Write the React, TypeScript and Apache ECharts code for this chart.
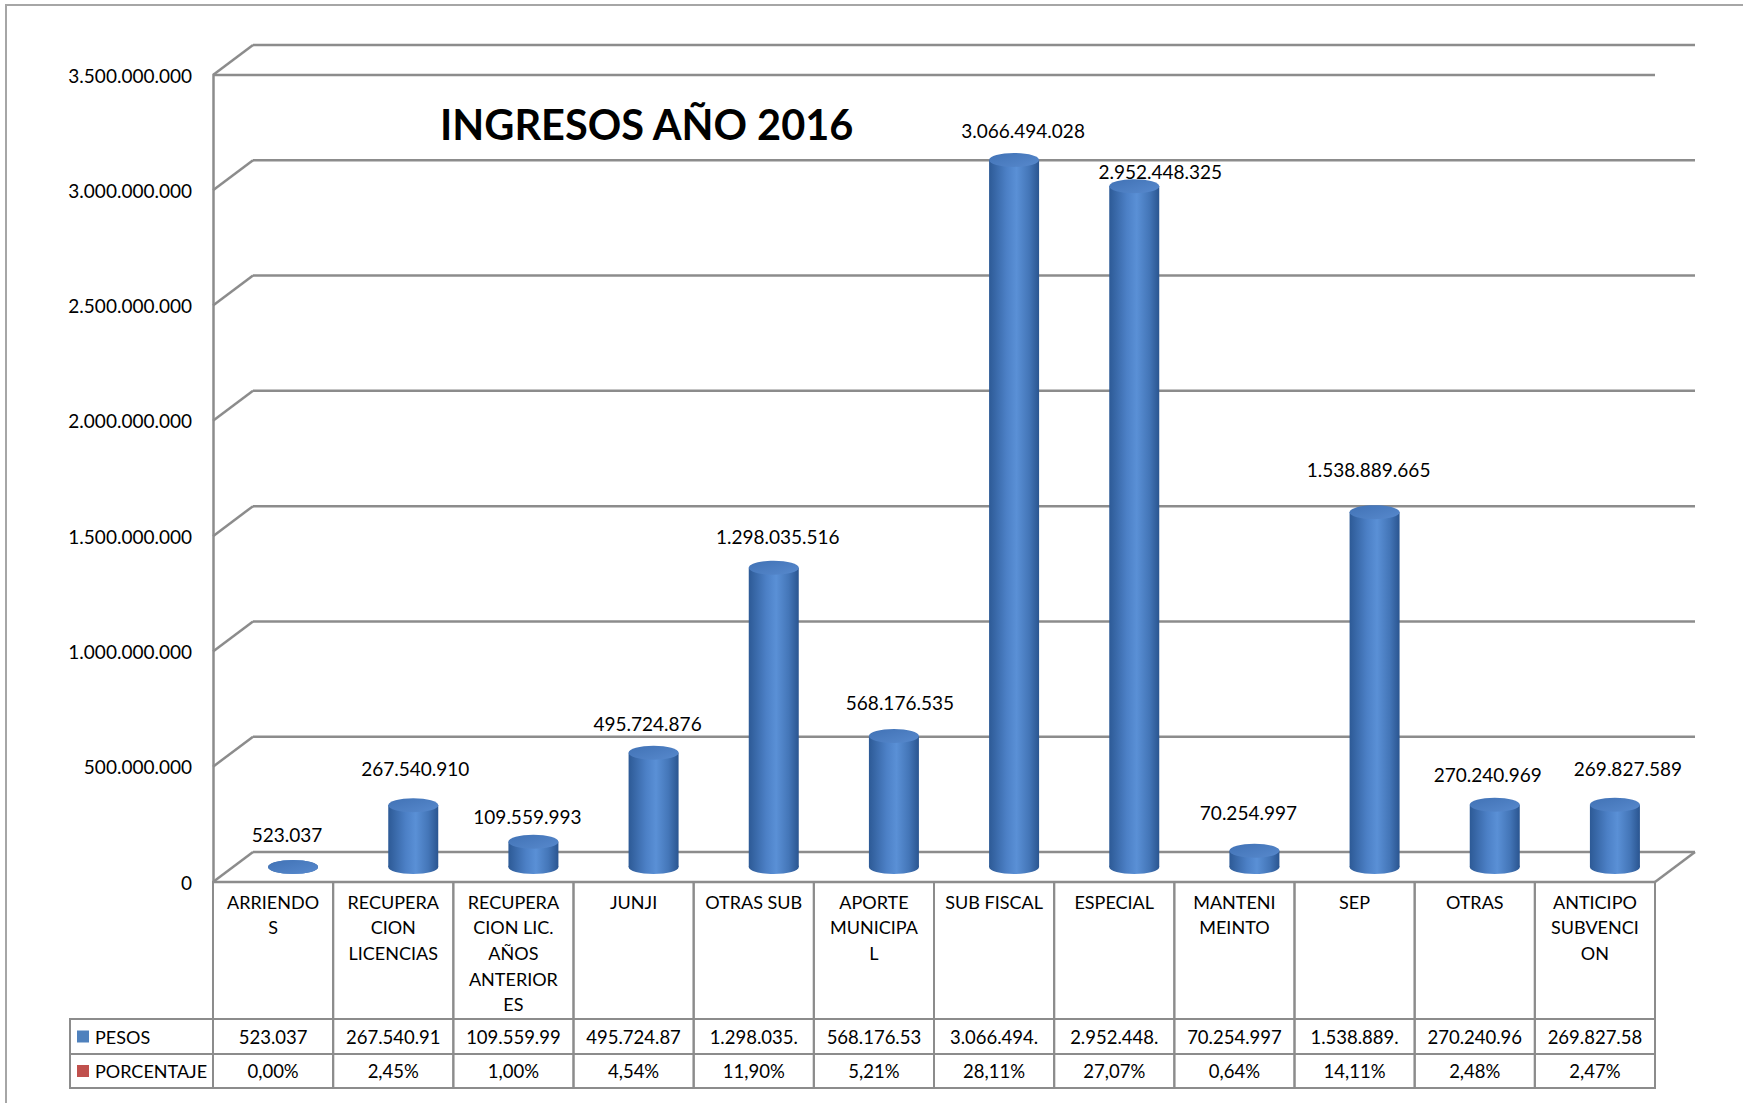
import React, { useEffect, useRef } from "react";
import * as echarts from "echarts";

// ---------- data ----------
const TITLE = "INGRESOS AÑO 2016";
const CATEGORIES = [
  "ARRIENDO\nS",
  "RECUPERA\nCION\nLICENCIAS",
  "RECUPERA\nCION LIC.\nAÑOS\nANTERIOR\nES",
  "JUNJI",
  "OTRAS SUB",
  "APORTE\nMUNICIPA\nL",
  "SUB FISCAL",
  "ESPECIAL",
  "MANTENI\nMEINTO",
  "SEP",
  "OTRAS",
  "ANTICIPO\nSUBVENCI\nON",
];
const PESOS = [
  523037, 267540910, 109559993, 495724876, 1298035516, 568176535, 3066494028,
  2952448325, 70254997, 1538889665, 270240969, 269827589,
];
const PORCENTAJE = [0.0, 2.45, 1.0, 4.54, 11.9, 5.21, 28.11, 27.07, 0.64, 14.11, 2.48, 2.47];
const SERIES_NAMES = ["PESOS", "PORCENTAJE"];
const Y_TICKS = [0, 500000000, 1000000000, 1500000000, 2000000000, 2500000000, 3000000000, 3500000000];

// ---------- style ----------
const FONT = "Lato";
const GRID = { left: 213, top: 75, width: 1442, height: 807 };
const DX = 40;
const DY = -30;
const LINE = "#8C8C8C";
const BLUE = "#4F81BD";
const RED = "#C0504D";
const ROW_CAT_H = 137;
const ROW_H = 35;
const LEGEND_LEFT = 70;
const LABEL_NUDGE = [
  [-6, 0], [2, -5], [-6, 7], [-6, 3], [4, 1], [6, -1],
  [9, 3], [26, 17], [-6, -6], [-6, -11], [-7, 2], [13, -4],
];

const fmt = (n: number) => String(n).replace(/\B(?=(\d{3})+(?!\d))/g, ".");
const fmtPct = (n: number) => n.toFixed(2).replace(".", ",") + "%";

export default function App() {
  const ref = useRef<HTMLDivElement>(null);
  useEffect(() => {
    if (!ref.current) return;
    const chart = echarts.init(ref.current, null, { renderer: "svg" });

    const bodyGrad = () =>
      new echarts.graphic.LinearGradient(0, 0, 1, 0, [
        { offset: 0, color: "#2D5A96" },
        { offset: 0.35, color: "#4C80C6" },
        { offset: 0.55, color: "#5A90D6" },
        { offset: 0.8, color: "#4476B8" },
        { offset: 1, color: "#2A5590" },
      ]);
    const topGrad = () =>
      new echarts.graphic.LinearGradient(0, 0, 1, 1, [
        { offset: 0, color: "#4172B5" },
        { offset: 1, color: "#5789CD" },
      ]);

    const gridItem = (params: any, api: any) => {
      const v = api.value(1);
      const y = api.coord([0, v])[1];
      const cs = params.coordSys;
      const x0 = cs.x;
      const x1 = cs.x + cs.width;
      const st = { stroke: LINE, lineWidth: 2.5, fill: null };
      const children: any[] = [
        { type: "line", shape: { x1: x0, y1: y, x2: x0 + DX, y2: y + DY }, style: st },
        { type: "line", shape: { x1: x0 + DX, y1: y + DY, x2: x1 + DX, y2: y + DY }, style: st },
      ];
      const maxV = Y_TICKS[Y_TICKS.length - 1];
      if (v === 0) {
        children.push({ type: "line", shape: { x1: x0, y1: y, x2: x1, y2: y }, style: st });
        children.push({ type: "line", shape: { x1: x1, y1: y, x2: x1 + DX, y2: y + DY }, style: st });
      }
      if (v === maxV) {
        children.push({ type: "line", shape: { x1: x0, y1: y, x2: x1, y2: y }, style: st });
      }
      return { type: "group", children };
    };

    const cylItem = (params: any, api: any) => {
      const i = api.value(0);
      const v = api.value(1);
      const top = api.coord([i, v]);
      const base = api.coord([i, 0]);
      const cx = top[0] + DX / 2;
      const ty = top[1] + DY / 2;
      const by = base[1] + DY / 2;
      const rx = 25;
      const ry = 7;
      const nud = LABEL_NUDGE[i] || [0, 0];
      return {
        type: "group",
        children: [
          { type: "ellipse", shape: { cx, cy: by, rx, ry }, style: { fill: bodyGrad() } },
          { type: "rect", shape: { x: cx - rx, y: ty, width: rx * 2, height: Math.max(0, by - ty) }, style: { fill: bodyGrad() } },
          { type: "ellipse", shape: { cx, cy: ty, rx, ry }, style: { fill: topGrad() } },
          {
            type: "text",
            style: {
              text: fmt(v),
              x: cx + nud[0],
              y: ty - 32 + nud[1],
              align: "center",
              verticalAlign: "middle",
              fill: "#000",
              fontSize: 19,
              fontFamily: FONT,
            },
          },
        ],
      };
    };

    const tableItem = (params: any, api: any) => {
      const i = api.value(0);
      const v = api.value(1);
      const p = api.coord([i, 0]);
      const bw = api.size([1, 0])[0];
      const xl = p[0] - bw / 2;
      const y0 = p[1];
      const st = { stroke: LINE, lineWidth: 2, fill: null };
      const y1 = y0 + ROW_CAT_H;
      const y2 = y1 + ROW_H;
      const y3 = y2 + ROW_H - 1;
      return {
        type: "group",
        children: [
          { type: "rect", shape: { x: xl, y: y0, width: bw, height: y3 - y0 }, style: st },
          { type: "line", shape: { x1: xl, y1: y1, x2: xl + bw, y2: y1 }, style: st },
          { type: "line", shape: { x1: xl, y1: y2, x2: xl + bw, y2: y2 }, style: st },
          {
            type: "text",
            style: {
              text: CATEGORIES[i],
              x: p[0],
              y: y0 + 7,
              align: "center",
              verticalAlign: "top",
              lineHeight: 25.6,
              fill: "#000",
              fontSize: 18,
              fontFamily: FONT,
            },
          },
          {
            type: "text",
            style: {
              text: fmt(v).slice(0, 10),
              x: p[0],
              y: (y1 + y2) / 2,
              align: "center",
              verticalAlign: "middle",
              fill: "#000",
              fontSize: 18.5,
              fontFamily: FONT,
            },
          },
          {
            type: "text",
            style: {
              text: fmtPct(PORCENTAJE[i]),
              x: p[0],
              y: (y2 + y3) / 2,
              align: "center",
              verticalAlign: "middle",
              fill: "#000",
              fontSize: 18.5,
              fontFamily: FONT,
            },
          },
        ],
      };
    };

    const tableTop = GRID.top + GRID.height;
    const r1 = tableTop + ROW_CAT_H;
    const r2 = r1 + ROW_H;
    const r3 = r2 + ROW_H - 1;

    const option: any = {
      animation: false,
      backgroundColor: "#fff",
      textStyle: { fontFamily: FONT },
      grid: { left: GRID.left, top: GRID.top, width: GRID.width, height: GRID.height },
      xAxis: {
        type: "category",
        data: CATEGORIES,
        axisLabel: { show: false },
        axisLine: { show: false },
        axisTick: { show: false },
        splitLine: { show: false },
      },
      yAxis: {
        type: "value",
        min: 0,
        max: Y_TICKS[Y_TICKS.length - 1],
        interval: Y_TICKS[1] - Y_TICKS[0],
        axisLine: { show: true, lineStyle: { color: LINE, width: 2.5 } },
        axisTick: { show: false },
        splitLine: { show: false },
        axisLabel: {
          margin: 21,
          color: "#000",
          fontSize: 19,
          fontFamily: FONT,
          formatter: (v: number) => fmt(v),
        },
      },
      graphic: [
        {
          type: "rect",
          silent: true,
          shape: { x: 6, y: 5, width: 1800, height: 1200 },
          style: { fill: null, stroke: "#A6A6A6", lineWidth: 2 },
          z: -10,
        },
        {
          type: "text",
          style: {
            text: TITLE,
            x: 440,
            y: 124,
            verticalAlign: "middle",
            fill: "#000",
            fontSize: 41.5,
            fontWeight: "bold",
            fontFamily: FONT,
          },
        },
        { type: "rect", shape: { x: LEGEND_LEFT, y: r1, width: GRID.left - LEGEND_LEFT, height: r3 - r1 }, style: { fill: null, stroke: LINE, lineWidth: 2 } },
        { type: "line", shape: { x1: LEGEND_LEFT, y1: r2, x2: GRID.left, y2: r2 }, style: { stroke: LINE, lineWidth: 2 } },
        { type: "rect", shape: { x: 77, y: (r1 + r2) / 2 - 6, width: 12, height: 12 }, style: { fill: BLUE } },
        { type: "rect", shape: { x: 77, y: (r2 + r3) / 2 - 6, width: 12, height: 12 }, style: { fill: RED } },
        {
          type: "text",
          style: { text: SERIES_NAMES[0], x: 95, y: (r1 + r2) / 2, verticalAlign: "middle", fill: "#000", fontSize: 18, fontFamily: FONT },
        },
        {
          type: "text",
          style: { text: SERIES_NAMES[1], x: 95, y: (r2 + r3) / 2, verticalAlign: "middle", fill: "#000", fontSize: 18, fontFamily: FONT },
        },
      ],
      series: [
        {
          type: "custom",
          name: "grid",
          renderItem: gridItem,
          data: Y_TICKS.map((v) => [0, v]),
          clip: false,
          silent: true,
          z: 1,
        },
        {
          type: "custom",
          name: "table",
          renderItem: tableItem,
          data: PESOS.map((v, i) => [i, v]),
          clip: false,
          silent: true,
          z: 2,
        },
        {
          type: "custom",
          name: SERIES_NAMES[0],
          renderItem: cylItem,
          data: PESOS.map((v, i) => [i, v]),
          clip: false,
          z: 3,
        },
      ],
    };
    chart.setOption(option);
    return () => chart.dispose();
  }, []);

  return (
    <div
      ref={ref}
      style={{ position: "absolute", left: 0, top: 0, width: 1743, height: 1103, background: "#fff" }}
    />
  );
}
